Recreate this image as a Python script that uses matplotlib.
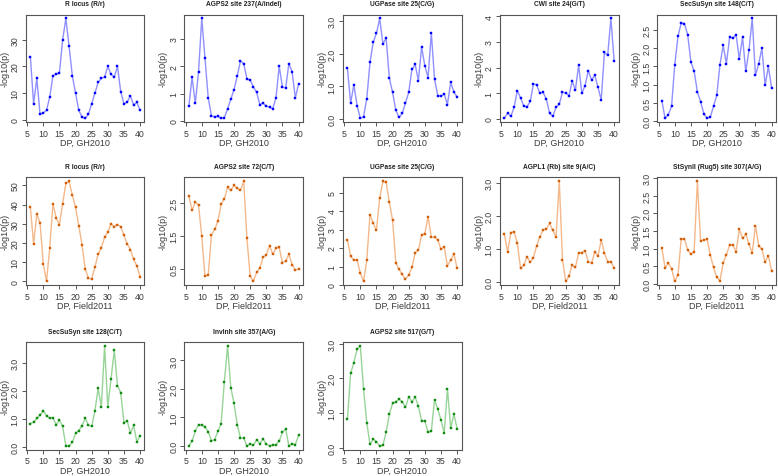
import matplotlib
matplotlib.use("Agg")
import matplotlib.pyplot as plt

plt.rcParams['font.family'] = ['Liberation Sans', 'DejaVu Sans']

dp = [6, 7, 8, 9, 10, 11, 12, 13, 14, 15, 16, 17, 18, 19, 20, 21, 22, 23,
      24, 25, 26, 27, 28, 29, 30, 31, 32, 33, 34, 35, 36, 37, 38, 39, 40]

# GH2010 (blue)
r_locus_gh = [23.5, 6, 15.5, 2, 2.5, 3.5, 8.5, 16.5, 17, 17.5, 30, 38, 27.5, 16.5, 10, 3.5, 1, 0.5,
              2, 6, 10, 14, 15.5, 16, 20, 17, 16, 20, 10.5, 6, 6.5, 9, 5.5, 6.5, 3.5]
agps2_237 = [0.55, 1.6, 0.65, 1.8, 3.75, 2.3, 0.85, 0.2, 0.15, 0.17, 0.1, 0.12, 0.45, 0.8, 1.15, 1.65, 2.2, 2.1,
             1.55, 1.5, 1.25, 1.05, 0.6, 0.65, 0.55, 0.5, 0.45, 0.85, 2.0, 1.25, 1.2, 2.1, 1.8, 0.85, 1.35]
ugpase_25_gh = [1.55, 0.5, 1.05, 0.42, 0.03, 0.08, 0.63, 1.73, 2.35, 2.62, 3.07, 2.3, 2.47, 1.25, 0.82, 0.28, 0.06, 0.18,
                0.5, 0.82, 1.52, 1.67, 1.18, 2.2, 1.63, 1.27, 2.63, 1.23, 0.72, 0.7, 0.77, 0.45, 1.13, 0.83, 0.68]
cwi_24 = [0.02, 0.22, 0.1, 0.45, 1.1, 0.82, 0.5, 0.47, 0.68, 1.37, 1.32, 1.0, 1.03, 0.77, 0.22, 0.1, 0.45, 0.57,
          1.04, 1.01, 0.91, 1.47, 1.12, 2.1, 1.0, 1.3, 1.88, 1.52, 1.7, 1.23, 0.74, 2.6, 2.48, 3.92, 2.27]
secsusyn_148 = [0.55, 0.07, 0.17, 0.4, 1.55, 2.33, 2.7, 2.68, 2.37, 1.62, 1.37, 0.8, 0.53, 0.2, 0.07, 0.1, 0.4, 0.7,
                1.55, 2.08, 1.58, 2.3, 2.28, 2.37, 1.7, 2.3, 1.36, 1.95, 2.82, 1.25, 1.57, 2.0, 0.98, 1.5, 0.9]

# Field2011 (orange)
r_locus_f = [38.5, 19.5, 35, 30.5, 9, 0, 17.5, 40.5, 33, 29.5, 40.5, 51, 52, 45, 38.5, 29, 19, 6.5,
             1.5, 1.2, 7.5, 14, 17.5, 23, 25.5, 30, 28.5, 29.5, 28.5, 24, 19.5, 16.5, 11.5, 8, 2.5]
agps2_72 = [2.73, 2.28, 2.54, 2.43, 1.49, 0.28, 0.31, 1.53, 1.7, 1.95, 2.47, 2.63, 2.98, 2.89, 3.04, 2.96, 2.89, 3.16,
            1.43, 0.28, 0.12, 0.39, 0.53, 0.85, 0.92, 1.21, 0.95, 1.12, 1.15, 0.69, 0.73, 0.94, 0.63, 0.46, 0.5]
ugpase_25_f = [2.45, 1.55, 1.33, 1.35, 0.65, 0.2, 1.33, 3.8, 3.35, 2.98, 4.7, 5.6, 5.55, 4.48, 3.5, 1.2, 0.85, 0.57,
               0.3, 0.55, 0.95, 1.75, 1.9, 2.7, 2.78, 3.7, 2.58, 2.58, 2.45, 1.93, 2.07, 1.05, 1.33, 1.7, 0.9]
agpl1_9 = [1.45, 0.9, 1.5, 1.52, 1.18, 0.42, 0.5, 0.77, 0.6, 0.74, 1.1, 1.38, 1.58, 1.61, 1.78, 1.57, 1.37, 3.05,
           0.68, 0.02, 0.17, 0.52, 0.44, 0.88, 0.89, 0.94, 0.62, 0.57, 0.91, 0.79, 1.27, 0.88, 0.62, 0.61, 0.43]
stsynii_307 = [1.02, 0.45, 0.6, 0.44, 0.08, 0.27, 1.27, 1.28, 0.96, 0.85, 0.92, 2.9, 1.22, 1.25, 1.27, 0.83, 0.47, 0.19,
               0.1, 0.6, 0.83, 1.11, 1.1, 0.92, 1.55, 1.29, 1.42, 1.12, 0.88, 1.65, 1.09, 0.98, 0.62, 0.8, 0.38]

# GH2010 (green)
secsusyn_128 = [0.85, 0.9, 1.03, 1.15, 1.3, 1.13, 1.03, 1.05, 0.8, 0.97, 0.75, 0.05, 0.05, 0.18, 0.5, 0.6, 0.77, 1.05,
                0.78, 0.75, 1.3, 2.1, 1.45, 3.6, 1.45, 2.45, 3.45, 2.2, 1.95, 0.88, 0.95, 0.5, 0.78, 0.2, 0.42]
invinh_357 = [0.0, 0.18, 0.52, 0.75, 0.73, 0.68, 0.5, 0.18, 0.22, 0.52, 0.78, 2.25, 3.5, 2.05, 1.5, 0.75, 0.28, 0.28,
              0.0, 0.07, 0.02, 0.22, 0.08, 0.25, 0.06, 0.01, 0.03, 0.05, 0.17, 0.48, 0.6, 0.0, 0.08, 0.05, 0.37]
agps2_517 = [0.83, 2.15, 2.45, 2.85, 2.93, 1.7, 0.72, 0.1, 0.25, 0.18, 0.05, 0.07, 0.45, 0.97, 1.28, 1.33, 1.4, 1.33,
             1.17, 1.47, 1.33, 1.46, 1.2, 0.77, 0.77, 0.45, 0.47, 1.38, 1.12, 0.8, 0.43, 1.7, 0.57, 0.97, 0.55]

titles = ["R locus (R/r)", "AGPS2 site 237(A/indel)", "UGPase site 25(C/G)", "CWI site 24(G/T)",
          "SecSuSyn site 148(C/T)",
          "R locus (R/r)", "AGPS2 site 72(C/T)", "UGPase site 25(C/G)", "AGPL1 (Rb) site 9(A/C)",
          "StSynII (Rug5) site 307(A/G)",
          "SecSuSyn site 128(C/T)", "InvInh site 357(A/G)", "AGPS2 site 517(G/T)"]
series = [r_locus_gh, agps2_237, ugpase_25_gh, cwi_24, secsusyn_148,
          r_locus_f, agps2_72, ugpase_25_f, agpl1_9, stsynii_307,
          secsusyn_128, invinh_357, agps2_517]
xlabels = ["DP, GH2010"] * 5 + ["DP, Field2011"] * 5 + ["DP, GH2010"] * 3
groups = ["blue"] * 5 + ["orange"] * 5 + ["green"] * 3

yticks = [
    ["0", "10", "20", "30"],
    ["0", "1", "2", "3"],
    ["0.0", "1.0", "2.0", "3.0"],
    ["0", "1", "2", "3", "4"],
    ["0.0", "0.5", "1.0", "1.5", "2.0", "2.5"],
    ["0", "10", "20", "30", "40", "50"],
    ["0.5", "1.5", "2.5"],
    ["0", "1", "2", "3", "4", "5"],
    ["0.0", "1.0", "2.0", "3.0"],
    ["0.0", "0.5", "1.0", "1.5", "2.0", "2.5", "3.0"],
    ["0.0", "1.0", "2.0", "3.0"],
    ["0.0", "1.0", "2.0", "3.0"],
    ["0.0", "1.0", "2.0", "3.0"],
]
xticks = [5, 10, 15, 20, 25, 30, 35, 40]

colors = {
    "blue": ("#0000ff", "#9090ff"),
    "orange": ("#d2600a", "#f4b88a"),
    "green": ("#118a11", "#98d498"),
}

fig = plt.figure(figsize=(7.78, 4.77), dpi=100)

lefts = [0.0334, 0.2371, 0.4409, 0.6427, 0.8451]
bottoms = [0.7415, 0.3998, 0.0545]
w, h = 0.1523, 0.226
ink = "#3a3a3a"

for i, (y, title) in enumerate(zip(series, titles)):
    row, col = divmod(i, 5)
    ax = fig.add_axes([lefts[col], bottoms[row], w, h])
    pt, ln = colors[groups[i]]
    ax.plot(dp, y, color=ln, lw=1.0, zorder=2)
    ax.plot(dp, y, ls="none", marker="s", ms=1.5, color=pt, mec=pt, mew=0.3, zorder=3)
    ax.margins(x=0.04, y=0.04)
    ax.set_xticks(xticks)
    ax.set_yticks([float(t) for t in yticks[i]])
    ax.set_yticklabels(yticks[i], rotation=90, va="center")
    ax.tick_params(labelsize=6.3, length=3, width=0.6, pad=1.5, colors=ink)
    for s in ax.spines.values():
        s.set_color("#555555")
        s.set_linewidth(0.8)
    ax.set_xlabel(xlabels[i], fontsize=6.5, color=ink, va="center")
    ax.xaxis.set_label_coords(0.5, -0.185)
    ax.set_ylabel("-log10(p)", fontsize=6.5, color=ink, va="center")
    ax.yaxis.set_label_coords(-0.18, 0.5)
    ax.text(0.5, 1.10, title, transform=ax.transAxes, ha="center", va="center",
            fontsize=4.8, fontweight="bold", color="#222222")

fig.savefig("out.png", dpi=100)
